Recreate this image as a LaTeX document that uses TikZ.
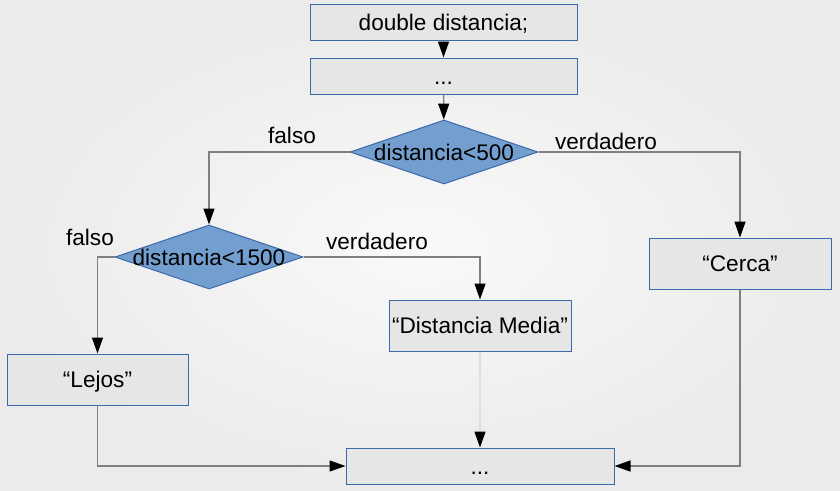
\documentclass[tikz,border=0pt]{standalone}
\usepackage{fontspec}
\setmainfont{Liberation Sans}
\usepackage{tikz}
\usetikzlibrary{shapes.geometric}
\usetikzlibrary{arrows.meta}
\definecolor{boxfill}{RGB}{230,230,230}
\definecolor{boxline}{RGB}{60,105,170}
\definecolor{condfill}{RGB}{114,159,207}
\definecolor{wire}{RGB}{128,128,128}
\definecolor{fadedwire}{RGB}{222,222,222}
\newcommand{\condtext}[1]{\makebox[0pt]{#1}}
\tikzstyle{block}=[draw=boxline, fill=boxfill, line width=1pt, inner sep=0, minimum height=36pt]
\tikzstyle{wblock}=[block, minimum width=267pt]
\tikzstyle{sblock}=[block, minimum width=182pt, minimum height=51pt]
\tikzstyle{decision}=[diamond, draw=boxline, fill=condfill, line width=1pt, inner sep=0,
                      minimum width=188pt, minimum height=64pt]
\tikzstyle{flow}=[draw=wire, line width=1.3pt, -{Triangle[length=16pt, width=11pt, color=black]}]
\tikzstyle{flowchart}=[x=1pt, y=-1pt,
                       % Same text box for every label, so baselines line up.
                       every node/.style={font=\fontsize{22.6}{27}\selectfont, text height=16pt, text depth=0pt}]

\begin{document}
\begin{tikzpicture}[flowchart]
        \shade[inner color={rgb,255:red,249;green,249;blue,249}, outer color={rgb,255:red,235;green,235;blue,235}]
            (0, 0) rectangle (840, 490);
        \node[wblock]   (decl)  at (443.5, 22)  {double distancia;};
        \node[wblock]   (dots1) at (443.5, 76)  {...};
        \node[decision] (cond1) at (444, 152)   {\condtext{distancia<500}};
        \node[decision] (cond2) at (209, 257)   {\condtext{distancia<1500}};
        \node[sblock]   (cerca) at (740, 263.5) {“Cerca”};
        \node[sblock]   (media) at (480, 325.5) {“Distancia Media”};
        \node[sblock, minimum width=181pt] (lejos) at (97.5, 379.5) {“Lejos”};
        \node[wblock, minimum width=268pt] (dots2) at (480, 466) {...};
        \node (no1)  at (292, 135) {falso};
        \node (yes1) at (606, 141) {verdadero};
        \node (no2)  at (90, 237)  {falso};
        \node (yes2) at (377, 241) {verdadero};
        \draw[flow] (decl) -- (dots1);
        \draw[flow] (dots1) -- (cond1);
        \draw[flow] (cond1.west) -| (cond2.north);
        \draw[flow] (cond1.east) -| (cerca.north);
        \draw[flow] (cond2.west) -| (lejos.north);
        \draw[flow] (cond2.east) -| (media.north);
        \draw[flow, draw=fadedwire] (media) -- (dots2);
        \draw[flow] (lejos.south) |- (dots2.west);
        \draw[flow] (cerca.south) |- (dots2.east);
    \end{tikzpicture}
\end{document}
